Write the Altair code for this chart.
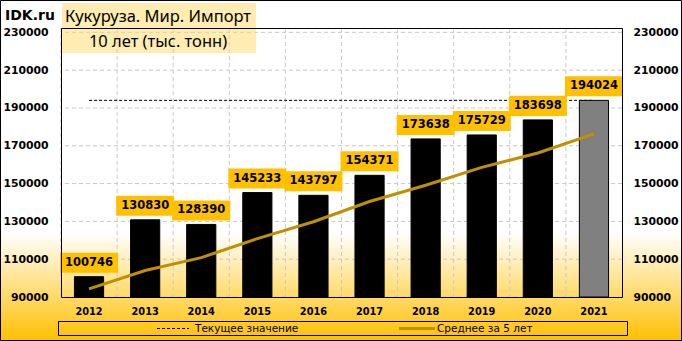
import altair as alt
import pandas as pd

# ---- data ----
years = ["2012", "2013", "2014", "2015", "2016", "2017", "2018", "2019", "2020", "2021"]
values = [100746, 130830, 128390, 145233, 143797, 154371, 173638, 175729, 183698, 194024]
avg5 = [94300, 104000, 110800, 120900, 129800, 140500, 149100, 158600, 166200, 176300]
current_value = 194024
y_ticks = [90000, 110000, 130000, 150000, 170000, 190000, 210000, 230000]
title_line1 = "Кукуруза. Мир. Импорт"
title_line2 = "10 лет (тыс. тонн)"
legend_labels = ["Текущее значение", "Среднее за 5 лет"]
brand = "IDK.ru"

W, H = 561, 269
FONT = "DejaVu Sans"

df = pd.DataFrame({
    "year": years,
    "value": values,
    "avg": avg5,
    "current": [current_value] * len(years),
    "is_last": [y == years[-1] for y in years],
    "label": [str(v) for v in values],
})
ticks_df = pd.DataFrame({"tick": y_ticks})
one = pd.DataFrame({"a": [0]})

xscale = alt.Scale(domain=years, paddingInner=0, paddingOuter=0)
yscale = alt.Scale(domain=[90000, 232300], nice=False, zero=False)

x_plain = alt.X("year:O", scale=xscale, axis=None)

# background gradient over the whole canvas
grad = alt.Gradient(
    gradient="linear",
    stops=[
        alt.GradientStop(color="#FFFFFF", offset=0),
        alt.GradientStop(color="#FFFFFF", offset=0.68),
        alt.GradientStop(color="#FFC000", offset=1),
    ],
    x1=0, x2=0, y1=0, y2=1,
)
bg = alt.Chart(one).mark_rect(fill=grad).encode(
    x=alt.value(-61), x2=alt.value(621), y=alt.value(-28), y2=alt.value(313)
)

# horizontal grid + right axis
hgrid = alt.Chart(ticks_df).mark_rule(color="#C8C8C8", strokeDash=[4, 3], strokeWidth=1).encode(
    y=alt.Y("tick:Q", scale=yscale,
            axis=alt.Axis(orient="right", values=y_ticks, format="d", title=None,
                          ticks=False, domain=False, grid=False, zindex=2,
                          labelFont=FONT, labelFontWeight="bold", labelFontSize=10.8,
                          labelColor="black", labelPadding=11, labelAlign="left"))
)

# vertical grid at category boundaries
vgrid = alt.Chart(df).mark_rule(color="#C8C8C8", strokeDash=[4, 3], strokeWidth=1).encode(
    x=alt.X("year:O", scale=xscale, axis=None, bandPosition=0)
)

title_box = alt.Chart(one).mark_rect(fill="#FFD966", opacity=0.5).encode(
    x=alt.value(1), x2=alt.value(195), y=alt.value(-25), y2=alt.value(25)
)

cur_line = alt.Chart(df).mark_line(color="black", strokeDash=[3, 2], strokeWidth=1).encode(
    x=x_plain, y=alt.Y("current:Q", scale=yscale, axis=None)
)

bars = alt.Chart(df).mark_bar(width=alt.RelativeBandSize(0.52), stroke="black", strokeWidth=1).encode(
    x=alt.X("year:O", scale=xscale,
            axis=alt.Axis(labelAngle=0, title=None, ticks=False, domain=False, grid=False, zindex=2,
                          labelFont=FONT, labelFontWeight="bold", labelFontSize=9.8,
                          labelColor="black", labelPadding=9)),
    y=alt.Y("value:Q", scale=yscale,
            axis=alt.Axis(orient="left", values=y_ticks, format="d", title=None,
                          ticks=False, domain=False, grid=False, zindex=2,
                          labelFont=FONT, labelFontWeight="bold", labelFontSize=10.8,
                          labelColor="black", labelPadding=13)),
    y2=alt.datum(90000),
    fill=alt.condition("datum.is_last", alt.value("#808080"), alt.value("black")),
)

avg_line = alt.Chart(df).mark_line(color="#BF9000", strokeWidth=3).encode(
    x=x_plain, y=alt.Y("avg:Q", scale=yscale, axis=None)
)

label_box = alt.Chart(df).mark_point(
    shape="M-1,-0.345L1,-0.345L1,0.345L-1,0.345Z", filled=True, fill="#FFC000",
    opacity=1, strokeWidth=0, size=58 * 58, yOffset=-14,
).encode(x=x_plain, y=alt.Y("value:Q", scale=yscale, axis=None))

label_text = alt.Chart(df).mark_text(
    font=FONT, fontWeight="bold", fontSize=11.5, color="black", baseline="middle", dy=-14
).encode(x=x_plain, y=alt.Y("value:Q", scale=yscale, axis=None), text="label:N")

plot_border = alt.Chart(one).mark_rect(fill="transparent", stroke="black", strokeWidth=1).encode(
    x=alt.value(0.5), x2=alt.value(W + 0.5), y=alt.value(0.5), y2=alt.value(H + 0.5)
)

legend_box = alt.Chart(one).mark_rect(fill="transparent", stroke="black", strokeWidth=1).encode(
    x=alt.value(-2.5), x2=alt.value(566.5), y=alt.value(293.5), y2=alt.value(307.5)
)
leg_dash = alt.Chart(one).mark_rule(color="black", strokeDash=[3, 2], strokeWidth=1).encode(
    x=alt.value(96), x2=alt.value(128), y=alt.value(300.5)
)
leg_solid = alt.Chart(one).mark_rule(color="#BF9000", strokeWidth=3).encode(
    x=alt.value(338), x2=alt.value(374), y=alt.value(300.5)
)
leg_t1 = alt.Chart(one).mark_text(font=FONT, fontSize=10.5, color="black", align="left",
                                  baseline="middle", text=legend_labels[0]).encode(
    x=alt.value(134), y=alt.value(300.5))
leg_t2 = alt.Chart(one).mark_text(font=FONT, fontSize=10.5, color="black", align="left",
                                  baseline="middle", text=legend_labels[1]).encode(
    x=alt.value(376), y=alt.value(300.5))

title1 = alt.Chart(one).mark_text(font="Noto Sans", fontSize=16.5, color="black", align="center",
                                  baseline="middle", text=title_line1).encode(
    x=alt.value(97), y=alt.value(-11))
title2 = alt.Chart(one).mark_text(font="Noto Sans", fontSize=16.5, color="black", align="center",
                                  baseline="middle", text=title_line2).encode(
    x=alt.value(97), y=alt.value(14))
brand_t = alt.Chart(one).mark_text(font=FONT, fontSize=14, fontWeight="bold", color="black",
                                   align="left", baseline="middle", text=brand).encode(
    x=alt.value(-56), y=alt.value(-12))

outer_border = alt.Chart(one).mark_rect(fill="transparent", stroke="black", strokeWidth=1).encode(
    x=alt.value(-60.5), x2=alt.value(620.5), y=alt.value(-27.5), y2=alt.value(312.5)
)

chart = alt.layer(
    bg, hgrid, vgrid, title_box, cur_line, bars, avg_line, label_box, label_text,
    plot_border, legend_box, leg_dash, leg_solid, leg_t1, leg_t2, title1, title2, brand_t,
    outer_border,
).resolve_axis(x="independent", y="independent").properties(
    width=W, height=H,
    padding={"left": 61, "top": 28, "right": 60, "bottom": 44},
    autosize=alt.AutoSizeParams(type="none"),
    background="white",
).configure_view(stroke=None)

chart.save("out.html", embed_options={"renderer": "svg", "actions": False})
